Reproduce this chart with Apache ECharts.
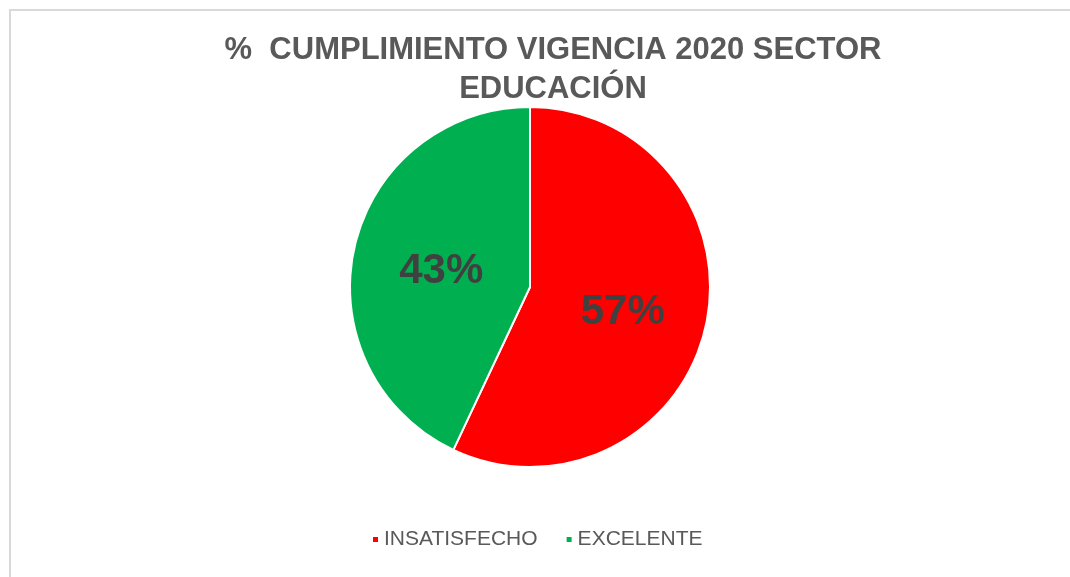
<!DOCTYPE html>
<html>
<head>
<meta charset="utf-8">
<script src="https://cdn.jsdelivr.net/npm/echarts@6/dist/echarts.min.js"></script>
<style>
  html, body { margin: 0; padding: 0; background: #fff; }
  #frame {
    position: absolute; left: 9px; top: 9px; width: 1100px; height: 600px;
    border-left: 2px solid #d9d9d9; border-top: 2px solid #d9d9d9;
  }
  #chart { position: absolute; left: 0; top: 0; width: 1070px; height: 577px; }
</style>
</head>
<body>
<div id="frame"></div>
<div id="chart"></div>
<script>
const categories = ["INSATISFECHO", "EXCELENTE"];
const values = [57, 43];
const colors = ["#ff0000", "#00b050"];

const chart = echarts.init(document.getElementById("chart"));
chart.setOption({
  animation: false,
  title: {
    text: "%  CUMPLIMIENTO VIGENCIA 2020 SECTOR\nEDUCACIÓN",
    left: 548,
    top: 26,
    textAlign: "center",
    textStyle: {
      color: "#595959",
      fontFamily: "Liberation Sans, Arial, sans-serif",
      fontWeight: "bold",
      fontSize: 31,
      lineHeight: 39
    }
  },
  legend: {
    bottom: 22,
    left: 366,
    icon: "rect",
    itemWidth: 7,
    itemHeight: 7,
    itemGap: 27,
    textStyle: {
      color: "#595959",
      fontFamily: "Liberation Sans, Arial, sans-serif",
      fontSize: 21
    },
    data: categories
  },
  series: [
    {
      name: "Cumplimiento",
      type: "pie",
      center: [530, 287],
      radius: 180,
      startAngle: 90,
      clockwise: true,
      data: categories.map((c, i) => ({
        name: c,
        value: values[i],
        itemStyle: { color: colors[i] }
      })),
      itemStyle: { borderColor: "#fff", borderWidth: 2 },
      label: {
        show: true,
        position: "inside",
        formatter: "{c}%",
        color: "#404040",
        fontFamily: "Liberation Sans, Arial, sans-serif",
        fontWeight: "bold",
        fontSize: 42,
        offset: [2, 5]
      },
      labelLine: { show: false },
      emphasis: { disabled: true }
    }
  ]
});
</script>
</body>
</html>
